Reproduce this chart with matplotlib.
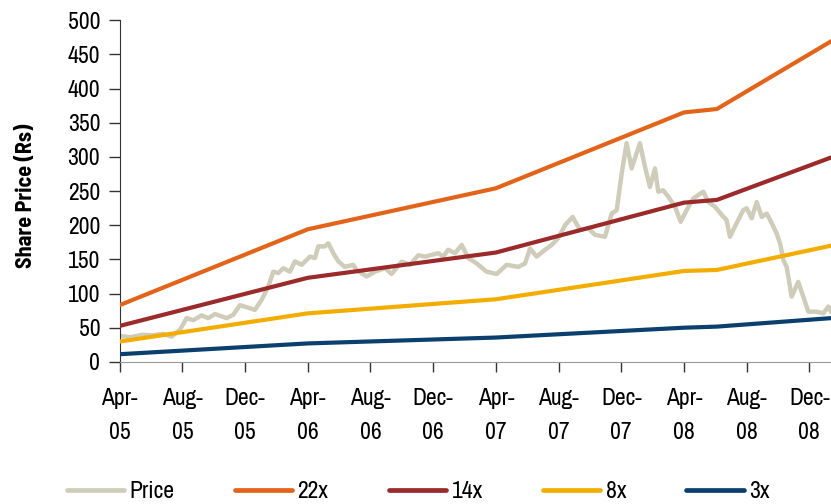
import matplotlib
matplotlib.use('Agg')
import matplotlib.pyplot as plt

# ==================== DATA ====================
# x positions are months counted from Apr-05
tick_months = [0, 4, 8, 12, 16, 20, 24, 28, 32, 36, 40, 44]
tick_labels = ['Apr-\n05', 'Aug-\n05', 'Dec-\n05', 'Apr-\n06', 'Aug-\n06', 'Dec-\n06',
               'Apr-\n07', 'Aug-\n07', 'Dec-\n07', 'Apr-\n08', 'Aug-\n08', 'Dec-\n08']

price_months = [0.02, 0.66, 1.40, 2.12, 2.78, 3.32, 3.85, 4.27, 4.70, 5.23, 5.65, 6.08,
                6.83, 7.25, 7.67, 8.10, 8.63, 9.06, 9.48, 9.80, 10.12, 10.44, 10.86, 11.18,
                11.61, 12.14, 12.46, 12.67, 13.10, 13.31, 13.63, 13.95, 14.37, 14.90, 15.12,
                15.76, 16.29, 16.93, 17.35, 17.99, 18.52, 19.05, 19.48, 19.80, 20.33, 20.64,
                20.96, 21.39, 21.82, 22.24, 22.78, 23.41, 24.05, 24.69, 25.43, 25.86, 26.18,
                26.60, 27.13, 27.56, 27.98, 28.41, 28.90, 29.37, 29.89, 30.32, 30.96, 31.39,
                31.71, 32.03, 32.34, 32.66, 33.19, 33.51, 33.83, 34.15, 34.36, 34.68, 35.00,
                35.43, 35.79, 36.17, 36.59, 37.23, 37.55, 37.98, 38.41, 38.72, 38.93, 39.36,
                39.78, 40.00, 40.32, 40.64, 40.96, 41.28, 41.60, 41.91, 42.13, 42.34, 42.55,
                42.87, 43.29, 43.61, 43.93, 44.46, 44.89, 45.21, 45.38]
price = [38, 36, 39.5, 39, 41, 37, 47, 64, 61, 68, 64, 70,
         64, 69, 83, 80, 76, 91, 110, 132, 130, 137, 132, 147,
         142, 154, 152, 169, 169, 173.5, 159, 147, 139, 142, 134,
         125, 132, 137, 128.6, 146.6, 142, 156, 154, 156, 159, 154,
         164, 159, 171, 152, 144, 132, 128.6, 142, 139, 144, 166,
         154, 164, 171, 181, 200, 212, 193, 195.5, 186, 183, 217,
         222, 276, 320, 283, 320, 285.5, 256, 283, 249, 251, 241.7,
         227, 205, 222, 239, 249, 234, 227, 215, 207.6, 183, 203,
         222, 224.7, 210, 234, 212, 217, 203, 188, 173.5, 149, 139,
         95.5, 117, 95.5, 73.5, 73.5, 71, 81, 73.5]

band_months = [0, 12, 24, 36, 38.1, 45.38]
pe_22x = [83, 194, 254, 365, 370, 469]
pe_14x = [52.6, 123, 160, 233, 237, 299]
pe_8x = [29.7, 71, 91.6, 133, 134.5, 170]
pe_3x = [11.2, 27, 35.6, 50, 51.6, 64]

# ==================== STYLE ====================
plt.rcParams['font.family'] = ['Archivo Narrow', 'DejaVu Sans']

fig = plt.figure(figsize=(8.31, 5.04), dpi=100)
ax = fig.add_axes([0.144, 0.282, 0.856, 0.678])

ax.plot(price_months, price, color='#cfccb9', linewidth=3.2, label='Price', zorder=2)
ax.plot(band_months, pe_22x, color='#e2641a', linewidth=3.0, label='22x', zorder=3)
ax.plot(band_months, pe_14x, color='#9b2a2a', linewidth=3.0, label='14x', zorder=3)
ax.plot(band_months, pe_8x, color='#f2ad00', linewidth=3.0, label='8x', zorder=3)
ax.plot(band_months, pe_3x, color='#0b3f6e', linewidth=3.0, label='3x', zorder=3)

ax.set_xlim(0, 45.38)
ax.set_ylim(0, 500)
ax.set_yticks(range(0, 501, 50))
ax.set_xticks(tick_months)
ax.set_xticklabels(tick_labels, linespacing=1.75)

ax.spines['top'].set_visible(False)
ax.spines['right'].set_visible(False)
ax.spines['left'].set_color('#333333')
ax.spines['bottom'].set_color('#999999')
ax.tick_params(axis='y', length=8, width=1, color='#333333', labelsize=17, pad=6)
ax.tick_params(axis='x', length=7, width=1, color='#333333', labelsize=17, pad=12)

ax.set_ylabel('Share Price (Rs)', fontsize=16, fontweight='bold',
              family=['Barlow Semi Condensed', 'DejaVu Sans'])
ax.yaxis.set_label_coords(-0.118, 0.485)

leg = fig.legend(loc='center left', bbox_to_anchor=(66.7 / 831, 1 - 491.5 / 504), ncol=5,
                 frameon=False, fontsize=17, handlelength=2.44, handletextpad=0.22,
                 columnspacing=2.55, borderaxespad=0, borderpad=0)
for line in leg.get_lines():
    line.set_linewidth(3.4)
    line.set_solid_capstyle('round')

fig.savefig('out.png', dpi=100)
